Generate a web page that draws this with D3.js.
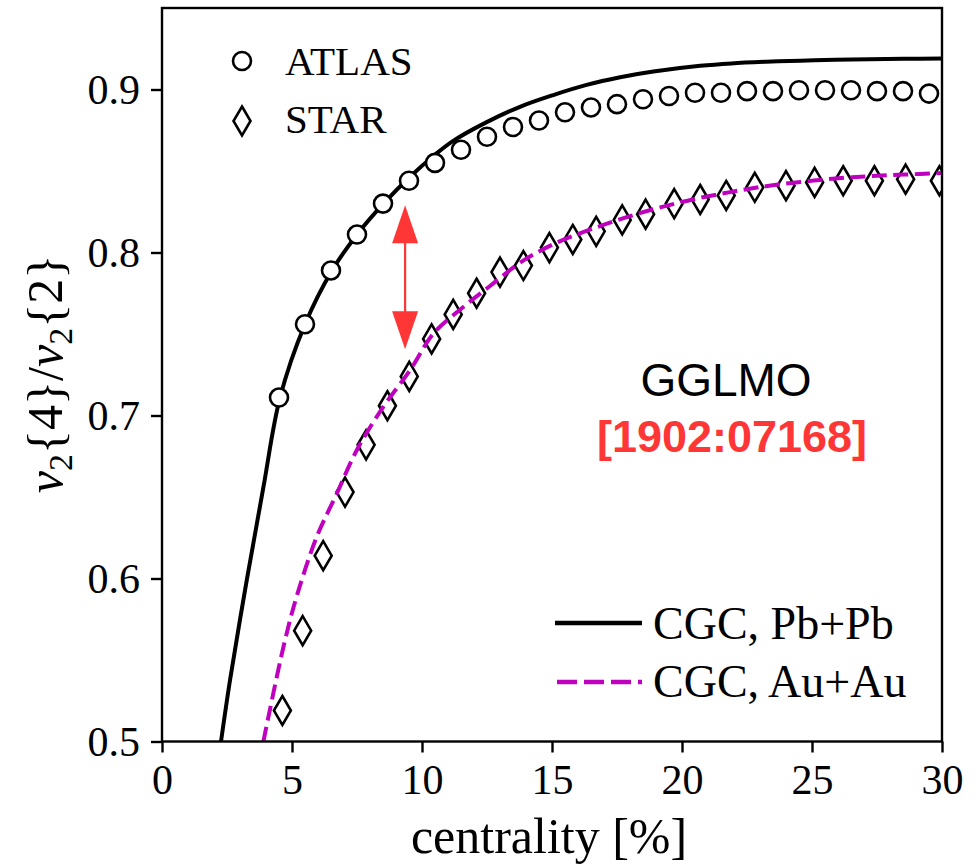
<!DOCTYPE html>
<html>
<head>
<meta charset="utf-8">
<script src="https://cdn.jsdelivr.net/npm/d3@7"></script>
<style>
  body { margin: 0; background: #fff; }
  svg { display: block; }
  .serif { font-family: "Liberation Serif", "Times New Roman", serif; }
</style>
</head>
<body>
<div id="chart"></div>
<script>
"use strict";

// ATLAS points (open circles)
var atlasX = [4.5, 5.5, 6.5, 7.5, 8.5, 9.5, 10.5, 11.5, 12.5, 13.5, 14.5, 15.5, 16.5,
	17.5, 18.5, 19.5, 20.5, 21.5, 22.5, 23.5, 24.5, 25.5, 26.5, 27.5, 28.5, 29.5];
var atlasY = [0.711, 0.756, 0.789, 0.811, 0.830, 0.844, 0.855, 0.863, 0.871, 0.877, 0.881, 0.886, 0.889,
	0.891, 0.894, 0.896, 0.898, 0.898, 0.899, 0.899, 0.8995, 0.8995, 0.8995, 0.899, 0.899, 0.8975];

// STAR points (open diamonds)
var starX = [4.63, 5.41, 6.2, 7.04, 7.85, 8.67, 9.51, 10.37, 11.2, 12.1, 13.0, 13.9, 14.9, 15.8,
	16.7, 17.7, 18.6, 19.7, 20.7, 21.7, 22.8, 24.0, 25.1, 26.2, 27.4, 28.6, 29.9];
var starY = [0.519, 0.568, 0.614, 0.653, 0.682, 0.706, 0.724, 0.747, 0.762, 0.775, 0.788, 0.792, 0.803, 0.808,
	0.813, 0.820, 0.8235, 0.830, 0.8325, 0.835, 0.840, 0.841, 0.843, 0.844, 0.844, 0.845, 0.844];

// CGC curves
var pbX = [2.27, 2.62, 3.26, 3.9, 4.54, 5.5, 6.54, 7.55, 8.58, 9.54, 10.5, 11.2, 12.49, 13.77,
	15.05, 16.33, 17.62, 18.9, 20.7, 21.9, 23.23, 24.56, 25.9, 27.2, 28.55, 30];
var pbY = [0.5, 0.538, 0.599, 0.656, 0.711, 0.756, 0.789, 0.812, 0.831, 0.8465, 0.860, 0.8685, 0.880, 0.8894,
	0.8966, 0.9028, 0.9075, 0.911, 0.9145, 0.916, 0.917, 0.9177, 0.9182, 0.9186, 0.9188, 0.919];

var auX = [3.9, 4.67, 5.18, 5.95, 6.72, 7.49, 8.51, 9.54, 10.44, 11.59, 12.58, 13.92, 15.25, 16.58,
	17.9, 19.24, 20.57, 21.9, 23.23, 24.56, 25.9, 27.2, 28.55, 30];
var auY = [0.5, 0.558, 0.589, 0.6255, 0.652, 0.6787, 0.7053, 0.7278, 0.7503, 0.7666, 0.779, 0.7953, 0.8065, 0.8147,
	0.8218, 0.828, 0.8331, 0.8372, 0.8407, 0.8433, 0.8454, 0.8468, 0.8478, 0.8488];

// red double arrow between the two curves
var arrowX = 9.35;
var arrowY = [0.829, 0.7407];

var xTicks = [0, 5, 10, 15, 20, 25, 30];
var yTicks = [0.5, 0.6, 0.7, 0.8, 0.9];

var margin = { top: 8, right: 34, bottom: 124.5, left: 162 },
	width = 976 - margin.left - margin.right,
	height = 866 - margin.top - margin.bottom;

var svg = d3.select("#chart").append("svg")
	.attr("width", 976)
	.attr("height", 866);

var g = svg.append("g")
	.attr("transform", "translate(" + margin.left + "," + margin.top + ")");

var x = d3.scaleLinear().domain([0, 30]).range([0, width]);
var y = d3.scaleLinear().domain([0.5, 0.95]).range([height, 0]);

g.append("clipPath").attr("id", "plotclip")
	.append("rect").attr("width", width).attr("height", height);

var plot = g.append("g").attr("clip-path", "url(#plotclip)");

var line = d3.line()
	.x(function (d) { return x(d[0]); })
	.y(function (d) { return y(d[1]); })
	.curve(d3.curveCatmullRom);

var magenta = "#bf00bf";
var red = "#ff3636";

// Pb+Pb solid curve
plot.append("path")
	.datum(d3.zip(pbX, pbY))
	.attr("d", line)
	.attr("fill", "none")
	.attr("stroke", "#000")
	.attr("stroke-width", 4);

// ATLAS circles
plot.selectAll("circle.atlas")
	.data(d3.zip(atlasX, atlasY))
	.enter().append("circle")
	.attr("class", "atlas")
	.attr("cx", function (d) { return x(d[0]); })
	.attr("cy", function (d) { return y(d[1]); })
	.attr("r", 9)
	.attr("fill", "#fff")
	.attr("stroke", "#000")
	.attr("stroke-width", 2.6);

// diamond shape, tall and narrow like matplotlib's 'd'
var diamond = "M0,-14.5L8.5,0L0,14.5L-8.5,0Z";

plot.selectAll("path.star")
	.data(d3.zip(starX, starY))
	.enter().append("path")
	.attr("class", "star")
	.attr("d", diamond)
	.attr("transform", function (d) { return "translate(" + x(d[0]) + "," + y(d[1]) + ")"; })
	.attr("fill", "#fff")
	.attr("stroke", "#000")
	.attr("stroke-width", 2.6);

// Au+Au dashed curve (drawn on top of the diamonds)
plot.append("path")
	.datum(d3.zip(auX, auY))
	.attr("d", line)
	.attr("fill", "none")
	.attr("stroke", magenta)
	.attr("stroke-width", 4)
	.attr("stroke-dasharray", "15,6.5");

// arrow
var ax = x(arrowX), ay0 = y(arrowY[0]), ay1 = y(arrowY[1]);
var headL = 38, headW = 13;
g.append("line")
	.attr("x1", ax).attr("x2", ax)
	.attr("y1", ay0 + headL - 2).attr("y2", ay1 - headL + 2)
	.attr("stroke", red)
	.attr("stroke-width", 2.2);
g.append("path")
	.attr("d", "M" + ax + "," + ay0 + "L" + (ax + headW) + "," + (ay0 + headL) + "L" + (ax - headW) + "," + (ay0 + headL) + "Z")
	.attr("fill", red);
g.append("path")
	.attr("d", "M" + ax + "," + ay1 + "L" + (ax + headW) + "," + (ay1 - headL) + "L" + (ax - headW) + "," + (ay1 - headL) + "Z")
	.attr("fill", red);

// axes
var xAxis = g.append("g")
	.attr("transform", "translate(0," + height + ")")
	.call(d3.axisBottom(x).tickValues(xTicks).tickSize(11).tickPadding(12).tickFormat(d3.format("d")));
var yAxis = g.append("g")
	.call(d3.axisLeft(y).tickValues(yTicks).tickSize(11).tickPadding(11).tickFormat(d3.format(".1f")));

[xAxis, yAxis].forEach(function (a) {
	a.select(".domain").remove();
	a.selectAll("line").attr("stroke", "#000").attr("stroke-width", 2.4);
	a.selectAll("text")
		.attr("class", "serif")
		.attr("fill", "#000")
		.style("font-size", "42px");
});
xAxis.selectAll("text").attr("dy", "0.71em");
yAxis.selectAll("text").attr("dy", "0.34em");

// frame
g.append("rect")
	.attr("width", width).attr("height", height)
	.attr("fill", "none")
	.attr("stroke", "#000")
	.attr("stroke-width", 2.4);

// axis titles
svg.append("text")
	.attr("class", "serif")
	.attr("x", 549)
	.attr("y", 853)
	.attr("text-anchor", "middle")
	.style("font-size", "50px")
	.text("centrality [%]");

var ylab = svg.append("text")
	.attr("class", "serif")
	.attr("transform", "translate(62,374) rotate(-90)")
	.attr("text-anchor", "middle")
	.style("font-size", "50px");
ylab.append("tspan").style("font-style", "italic").text("v");
ylab.append("tspan").attr("dy", 10).style("font-size", "34px").text("2");
ylab.append("tspan").attr("dy", -10).text("{4}/");
ylab.append("tspan").style("font-style", "italic").text("v");
ylab.append("tspan").attr("dy", 10).style("font-size", "34px").text("2");
ylab.append("tspan").attr("dy", -10).text("{2}");

// legend: data points, top left
var leg1 = svg.append("g");
leg1.append("circle")
	.attr("cx", 242).attr("cy", 61).attr("r", 9)
	.attr("fill", "#fff").attr("stroke", "#000").attr("stroke-width", 2.6);
leg1.append("path")
	.attr("d", diamond)
	.attr("transform", "translate(242,121)")
	.attr("fill", "#fff").attr("stroke", "#000").attr("stroke-width", 2.6);
leg1.append("text").attr("class", "serif")
	.attr("x", 285).attr("y", 75).style("font-size", "41px").text("ATLAS");
leg1.append("text").attr("class", "serif")
	.attr("x", 285).attr("y", 133).style("font-size", "41px").text("STAR");

// legend: curves, bottom right
var leg2 = svg.append("g");
leg2.append("line")
	.attr("x1", 555).attr("x2", 642).attr("y1", 623).attr("y2", 623)
	.attr("stroke", "#000").attr("stroke-width", 4.5);
leg2.append("line")
	.attr("x1", 557).attr("x2", 642).attr("y1", 682).attr("y2", 682)
	.attr("stroke", magenta).attr("stroke-width", 4.5)
	.attr("stroke-dasharray", "20,7");
leg2.append("text").attr("class", "serif")
	.attr("x", 653).attr("y", 639).style("font-size", "46px").text("CGC, Pb+Pb");
leg2.append("text").attr("class", "serif")
	.attr("x", 653).attr("y", 697).style("font-size", "46px").text("CGC, Au+Au");

// annotation
svg.append("text")
	.attr("x", 726).attr("y", 396)
	.attr("text-anchor", "middle")
	.style("font-family", "'Liberation Sans', Arial, sans-serif")
	.style("font-size", "46px")
	.text("GGLMO");
svg.append("text")
	.attr("x", 732).attr("y", 452)
	.attr("text-anchor", "middle")
	.style("font-family", "'Liberation Sans', Arial, sans-serif")
	.style("font-size", "45px")
	.style("font-weight", "bold")
	.attr("fill", red)
	.text("[1902:07168]");
</script>
</body>
</html>
